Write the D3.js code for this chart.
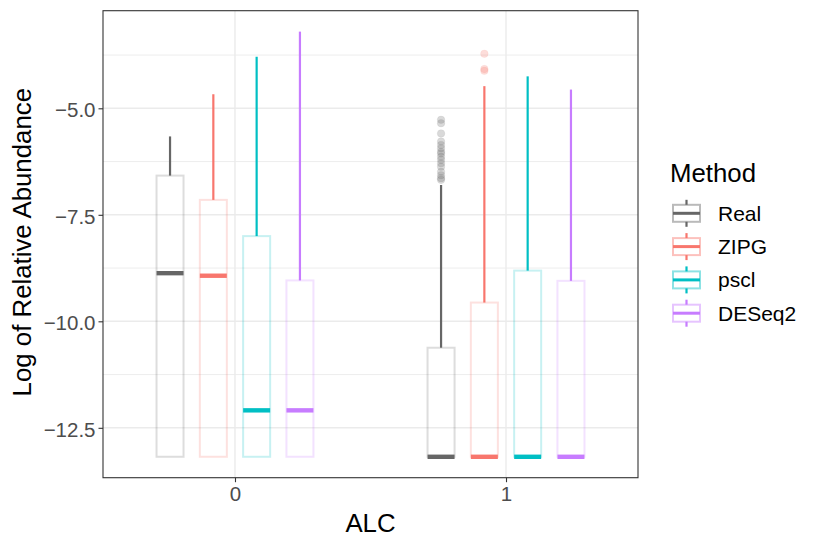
<!DOCTYPE html>
<html>
<head>
<meta charset="utf-8">
<script src="https://cdn.jsdelivr.net/npm/d3@7"></script>
<style>
  body { margin: 0; background: #fff; }
  text { font-family: "Liberation Sans", Arial, sans-serif; }
</style>
</head>
<body>
<div class="content"></div>
<script>
// categories
const alcLevels = ['0', '1']
const methods = ['Real', 'ZIPG', 'pscl', 'DESeq2']
const methodColors = ['#666666', '#F8766D', '#00BFC4', '#C77CFF']

// box stats, one row per ALC level, one value per method
const lowerVals = [[-13.18, -13.18, -13.18, -13.18], [-13.18, -13.18, -13.18, -13.18]]
const q1Vals = [[-13.18, -13.18, -13.18, -13.18], [-13.18, -13.18, -13.18, -13.18]]
const medianVals = [[-8.87, -8.93, -12.09, -12.09], [-13.18, -13.18, -13.18, -13.18]]
const q3Vals = [[-6.58, -7.15, -8.00, -9.04], [-10.62, -9.56, -8.81, -9.05]]
const upperVals = [[-5.66, -4.67, -3.79, -3.20], [-6.80, -4.48, -4.25, -4.56]]

// outliers (ALC = 1)
const outliersReal = [-5.27, -5.35, -5.59, -5.78, -5.86, -5.94, -6.02, -6.06, -6.14, -6.21, -6.29, -6.37, -6.49, -6.57, -6.64, -6.68]
const outliersZIPG = [-3.72, -4.08, -4.12]

// tick labels
const yMajor = [-12.5, -10, -7.5, -5]
const yMinor = [-11.25, -8.75, -6.25, -3.75]

const width = 822
const height = 548
const panel = {left: 103, top: 10.7, right: 638, bottom: 477.7}

const svg = d3.select('div.content')
    .append('svg')
    .attr('width', width)
    .attr('height', height)

const y = d3.scaleLinear()
    .domain([-13.671, -2.709])
    .range([panel.bottom, panel.top])
const x = d3.scalePoint()
    .domain(alcLevels)
    .range([panel.left, panel.right])
    .padding(0.487)
const xInner = d3.scaleBand()
    .domain(methods)
    .range([-86.6, 86.6])
    .paddingInner(0.376)
    .paddingOuter(0.188)
const color = d3.scaleOrdinal().domain(methods).range(methodColors)

// panel background + grid
const g = svg.append('g')
g.append('rect')
    .attr('x', panel.left).attr('y', panel.top)
    .attr('width', panel.right - panel.left).attr('height', panel.bottom - panel.top)
    .attr('fill', '#fff')
g.selectAll('line.minor').data(yMinor).join('line')
    .attr('x1', panel.left).attr('x2', panel.right)
    .attr('y1', d => y(d)).attr('y2', d => y(d))
    .attr('stroke', '#EBEBEB').attr('stroke-width', 0.9)
g.selectAll('line.major').data(yMajor).join('line')
    .attr('x1', panel.left).attr('x2', panel.right)
    .attr('y1', d => y(d)).attr('y2', d => y(d))
    .attr('stroke', '#EBEBEB').attr('stroke-width', 1.4)
g.selectAll('line.vmajor').data(alcLevels).join('line')
    .attr('x1', d => x(d)).attr('x2', d => x(d))
    .attr('y1', panel.top).attr('y2', panel.bottom)
    .attr('stroke', '#EBEBEB').attr('stroke-width', 1.4)

// boxes
const boxes = []
alcLevels.forEach((a, i) => {
    methods.forEach((m, j) => {
        boxes.push({alc: a, method: m, lower: lowerVals[i][j], q1: q1Vals[i][j],
            median: medianVals[i][j], q3: q3Vals[i][j], upper: upperVals[i][j]})
    })
})
const bw = xInner.bandwidth()
const boxG = svg.append('g').selectAll('g').data(boxes).join('g')
    .attr('transform', d => `translate(${x(d.alc) + xInner(d.method)},0)`)
boxG.append('line')
    .attr('x1', bw / 2).attr('x2', bw / 2)
    .attr('y1', d => y(d.q3)).attr('y2', d => y(d.upper))
    .attr('stroke', d => color(d.method)).attr('stroke-width', 2.2)
boxG.append('line')
    .attr('x1', bw / 2).attr('x2', bw / 2)
    .attr('y1', d => y(d.q1)).attr('y2', d => y(d.lower))
    .attr('stroke', d => color(d.method)).attr('stroke-width', 2.2)
boxG.append('rect')
    .attr('x', 0).attr('width', bw)
    .attr('y', d => y(d.q3)).attr('height', d => y(d.q1) - y(d.q3))
    .attr('fill', 'none')
    .attr('stroke', d => color(d.method)).attr('stroke-opacity', 0.22).attr('stroke-width', 2)
boxG.append('line')
    .attr('x1', 0).attr('x2', bw)
    .attr('y1', d => y(d.median)).attr('y2', d => y(d.median))
    .attr('stroke', d => color(d.method)).attr('stroke-width', 4.4)

// outliers
const outliers = outliersReal.map(v => ({method: 'Real', v: v}))
    .concat(outliersZIPG.map(v => ({method: 'ZIPG', v: v})))
svg.append('g').selectAll('circle').data(outliers).join('circle')
    .attr('cx', d => x('1') + xInner(d.method) + bw / 2)
    .attr('cy', d => y(d.v))
    .attr('r', 3.8)
    .attr('fill', d => color(d.method)).attr('fill-opacity', 0.25)
    .attr('stroke', d => color(d.method)).attr('stroke-opacity', 0.15).attr('stroke-width', 0.5)

// panel border
svg.append('rect')
    .attr('x', panel.left).attr('y', panel.top)
    .attr('width', panel.right - panel.left).attr('height', panel.bottom - panel.top)
    .attr('fill', 'none').attr('stroke', '#333333').attr('stroke-width', 1.1)

// axes
const fmt = d => (d < 0 ? '\u2212' : '') + Math.abs(d).toFixed(1)
const yAxis = svg.append('g')
    .attr('transform', `translate(${panel.left},0)`)
    .call(d3.axisLeft(y).tickValues(yMajor).tickFormat(fmt).tickSize(4.5).tickPadding(3))
yAxis.select('.domain').remove()
yAxis.selectAll('line').attr('stroke', '#333333').attr('stroke-width', 1.1)
yAxis.selectAll('text').attr('fill', '#4D4D4D').style('font-size', '20.5px')
    .attr('dy', '0.42em')

const xAxis = svg.append('g')
    .attr('transform', `translate(0,${panel.bottom})`)
    .call(d3.axisBottom(x).tickSize(4.5).tickPadding(4))
xAxis.select('.domain').remove()
xAxis.selectAll('line').attr('stroke', '#333333').attr('stroke-width', 1.1)
xAxis.selectAll('text').attr('fill', '#4D4D4D').style('font-size', '20.5px')

// axis titles
svg.append('text')
    .attr('x', (panel.left + panel.right) / 2).attr('y', 531.5)
    .attr('text-anchor', 'middle').style('font-size', '25.8px')
    .text('ALC')
svg.append('text')
    .attr('transform', `translate(31,${(panel.top + panel.bottom) / 2 - 2}) rotate(-90)`)
    .attr('text-anchor', 'middle').style('font-size', '25.8px')
    .text('Log of Relative Abundance')

// legend
const legend = svg.append('g')
legend.append('text')
    .attr('x', 670).attr('y', 181.5)
    .style('font-size', '25.8px')
    .text('Method')
const keys = legend.selectAll('g.key').data(methods).join('g')
    .attr('transform', (d, i) => `translate(686.5,${213.3 + i * 33.3})`)
keys.append('line')
    .attr('x1', 0).attr('x2', 0).attr('y1', -13.5).attr('y2', 13.5)
    .attr('stroke', d => color(d)).attr('stroke-width', 2.2)
keys.append('rect')
    .attr('x', -13.5).attr('y', -8.5).attr('width', 27).attr('height', 17)
    .attr('fill', '#fff')
    .attr('stroke', d => color(d)).attr('stroke-opacity', 0.45).attr('stroke-width', 2)
keys.append('line')
    .attr('x1', -13.5).attr('x2', 13.5).attr('y1', 0).attr('y2', 0)
    .attr('stroke', d => color(d)).attr('stroke-width', 3)
keys.append('text')
    .attr('x', 31.5).attr('y', 7.5)
    .style('font-size', '21px')
    .text(d => d)
</script>
</body>
</html>
